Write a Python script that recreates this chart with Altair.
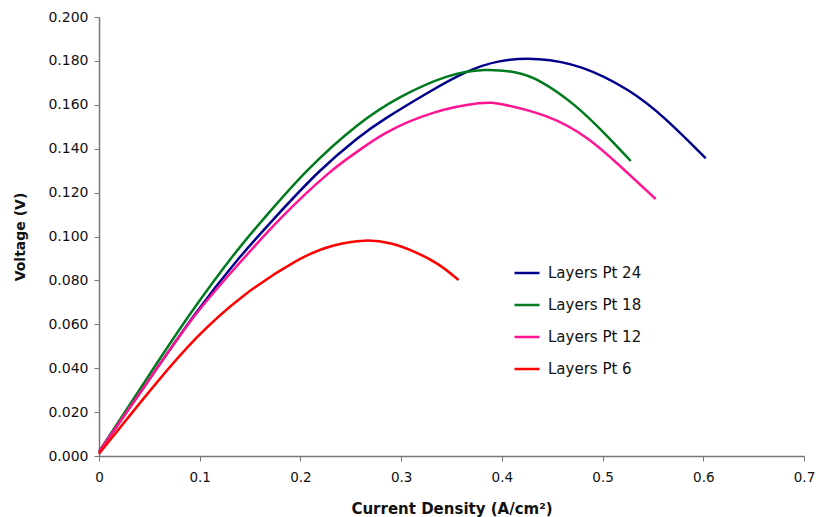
import altair as alt
import pandas as pd

series_names = ["Layers Pt 24", "Layers Pt 18", "Layers Pt 12", "Layers Pt 6"]
series_colors = ["#00008B", "#007A1E", "#FF1493", "#FF0000"]

pt24_x = [0, 0.0497, 0.0949, 0.1394, 0.1724, 0.2185, 0.258, 0.281, 0.3306, 0.3636, 0.3965, 0.436, 0.479, 0.528, 0.561, 0.6025]
pt24_y = [0.002, 0.0346, 0.065, 0.0908, 0.1075, 0.1303, 0.1455, 0.153, 0.1667, 0.1752, 0.1805, 0.1815, 0.1782, 0.1667, 0.1546, 0.1356]

pt18_x = [0, 0.0465, 0.09, 0.1394, 0.1625, 0.2053, 0.258, 0.2976, 0.347, 0.383, 0.416, 0.436, 0.4723, 0.5052, 0.528]
pt18_y = [0.002, 0.0346, 0.065, 0.0954, 0.1075, 0.1303, 0.1520, 0.1637, 0.1740, 0.1765, 0.1750, 0.1718, 0.1606, 0.1455, 0.1344]

pt12_x = [0, 0.0497, 0.0949, 0.1394, 0.1773, 0.2317, 0.258, 0.281, 0.3306, 0.383, 0.3965, 0.446, 0.4855, 0.5217, 0.5527]
pt12_y = [0.002, 0.0346, 0.065, 0.0878, 0.1075, 0.131, 0.139, 0.147, 0.1572, 0.1615, 0.1608, 0.1555, 0.1455, 0.1303, 0.1171]

pt6_x = [0, 0.0587, 0.0966, 0.1394, 0.2, 0.232, 0.265, 0.29, 0.314, 0.337, 0.357]
pt6_y = [0.001, 0.0346, 0.0544, 0.0726, 0.0908, 0.0963, 0.0988, 0.0972, 0.0931, 0.0878, 0.0802]

x_ticks = [0, 0.1, 0.2, 0.3, 0.4, 0.5, 0.6, 0.7]
y_ticks = [0, 0.02, 0.04, 0.06, 0.08, 0.1, 0.12, 0.14, 0.16, 0.18, 0.2]

rows = []
for name, xs, ys in zip(series_names,
                        [pt24_x, pt18_x, pt12_x, pt6_x],
                        [pt24_y, pt18_y, pt12_y, pt6_y]):
    for i, (xv, yv) in enumerate(zip(xs, ys)):
        rows.append({"series": name, "x": xv, "y": yv, "i": i})
df = pd.DataFrame(rows)

W, H = 705, 439
FONT = "DejaVu Sans"

chart = alt.Chart(df).mark_line(strokeWidth=2.5, interpolate="basis").encode(
    x=alt.X("x:Q",
            scale=alt.Scale(domain=[0, 0.7], nice=False, zero=False),
            axis=alt.Axis(values=x_ticks, format="~g", grid=False,
                          labelFlush=False,
                          title="Current Density (A/cm²)",
                          titleFont=FONT, titleFontSize=15, titleFontWeight="bold",
                          titleColor="#111111",
                          titleX=W / 2, titleY=52, titleBaseline="middle",
                          labelFont=FONT, labelFontSize=13.5, labelColor="#111111",
                          labelPadding=9,
                          domainColor="#777777", tickColor="#777777",
                          tickSize=5, domainWidth=1.5)),
    y=alt.Y("y:Q",
            scale=alt.Scale(domain=[0, 0.2], nice=False, zero=False),
            axis=alt.Axis(values=y_ticks, format=".3f", grid=False,
                          title="Voltage (V)",
                          titleFont=FONT, titleFontSize=14, titleFontWeight="bold",
                          titleColor="#111111",
                          titleX=-79, titleY=H / 2, titleAngle=-90,
                          titleAlign="center", titleBaseline="middle",
                          labelFont=FONT, labelFontSize=14, labelColor="#111111",
                          labelPadding=6,
                          domainColor="#777777", tickColor="#777777",
                          tickSize=5, domainWidth=1.5)),
    color=alt.Color("series:N",
                    scale=alt.Scale(domain=series_names, range=series_colors),
                    sort=series_names,
                    legend=alt.Legend(title=None, orient="none",
                                      legendX=414, legendY=242,
                                      symbolType="stroke", symbolSize=625,
                                      symbolStrokeWidth=2.5,
                                      labelFont=FONT, labelFontSize=15,
                                      labelColor="#111111", labelOffset=7,
                                      rowPadding=10)),
    order="i:Q",
).properties(
    width=W, height=H,
    autosize=alt.AutoSizeParams(type="none"),
    padding={"left": 91, "top": 9, "right": 11, "bottom": 62},
).configure_view(stroke=None)

chart.save("out.html", embed_options={"renderer": "svg", "actions": False})
